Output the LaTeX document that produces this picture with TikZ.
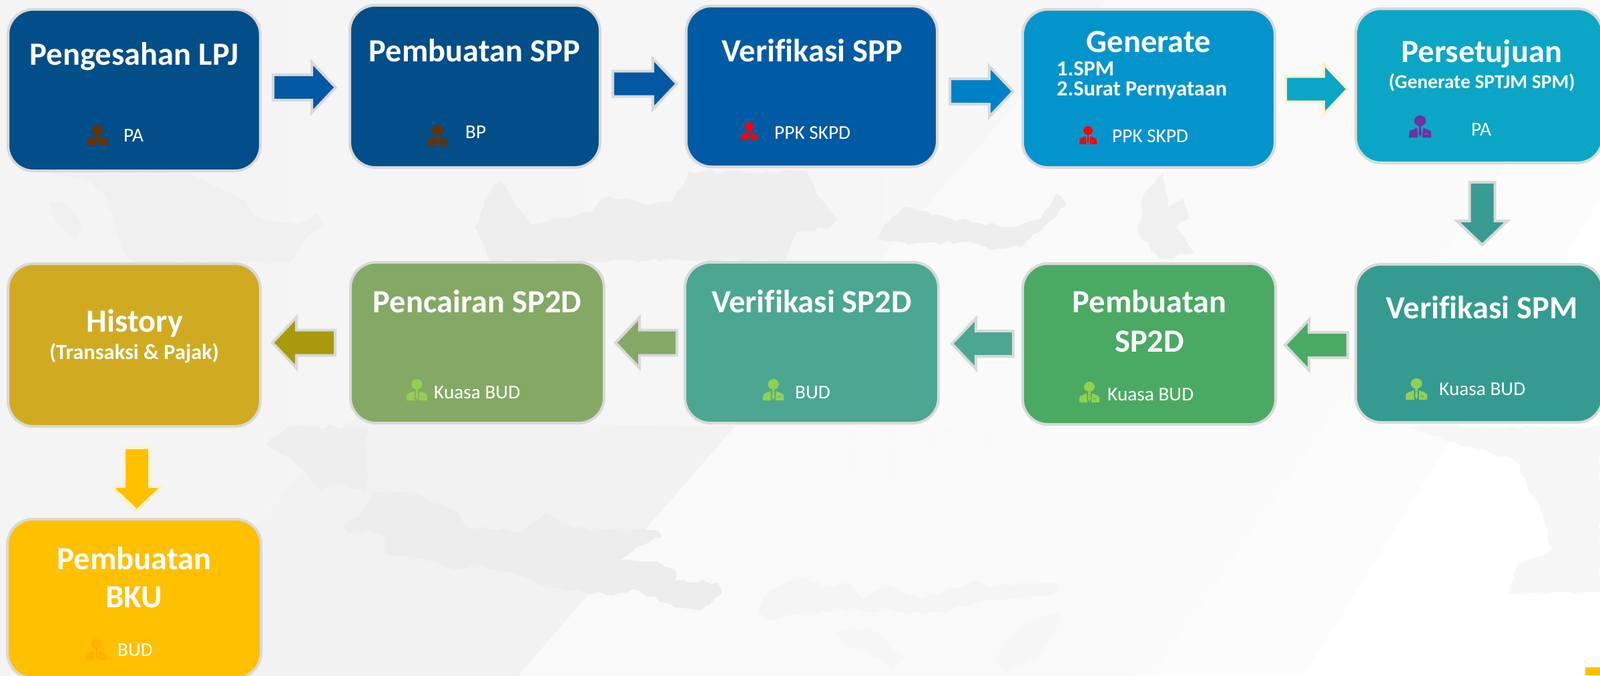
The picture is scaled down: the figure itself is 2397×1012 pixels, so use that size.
\documentclass[tikz,border=0pt]{standalone}
\usepackage{fontspec}
\setmainfont[Ligatures=NoCommon]{Carlito}
\usetikzlibrary{calc,decorations.pathmorphing}
\definecolor{cB}{HTML}{024E88}
\definecolor{cC}{HTML}{005AA4}
\definecolor{cD}{HTML}{0494CC}
\definecolor{cE}{HTML}{0BA6C6}
\definecolor{cF}{HTML}{359B91}
\definecolor{cG}{HTML}{4AAA63}
\definecolor{cH}{HTML}{4BA792}
\definecolor{cI}{HTML}{84A965}
\definecolor{cJ}{HTML}{D0AB22}
\definecolor{cK}{HTML}{FFC000}
\definecolor{aA}{HTML}{0358A3}
\definecolor{aB}{HTML}{0080C6}
\definecolor{aC}{HTML}{399B91}
\definecolor{aD}{HTML}{A89A0C}
\definecolor{edgeG}{HTML}{D9D9D9}
\definecolor{edgeY}{HTML}{FFF2CC}
\definecolor{iBrown}{HTML}{663300}
\definecolor{iRed}{HTML}{FF0000}
\definecolor{iPurple}{HTML}{7030A0}
\definecolor{iGreen}{HTML}{92D050}
\definecolor{iOrange}{HTML}{FFB000}
\tikzset{
  flowbox/.style={draw=edgeG,line width=4pt,rounded corners=38pt,inner sep=0pt,outer sep=0pt},
  title/.style={text=white,anchor=base,inner sep=0pt,font=\fontsize{48.5}{58}\selectfont\bfseries},
  subtitle/.style={text=white,inner sep=0pt,font=\fontsize{32.4}{38}\selectfont\bfseries},
  subsmall/.style={text=white,inner sep=0pt,font=\fontsize{29.5}{36}\selectfont\bfseries},
  who/.style={text=white,anchor=base west,inner sep=0pt,font=\fontsize{29.3}{34}\selectfont},
  blockarrow/.style={line width=4pt,miter limit=10,line join=miter},
  band/.style={fill=#1,draw=none},
  map/.style={fill=#1,draw=none,decorate,decoration={random steps,segment length=11pt,amplitude=3pt}}
}
% outer extents x1 y1 x2 y2, name, colour
\newcommand{\flowbox}[6]{%
  \pgfmathsetmacro{\bw}{#3-#1-4}\pgfmathsetmacro{\bh}{#4-#2-4}%
  \node[flowbox,fill=#6,minimum width=\bw pt,minimum height=\bh pt] (#5) at ({(#1+#3)/2},{(#2+#4)/2}) {};}
% tail, tip, fill, edge
\newcommand{\blockarrow}[4]{%
  \coordinate (bc) at ($(#2)!36pt!(#1)$);
  \draw[blockarrow,fill=#3,draw=#4]
    ($(#1)!19pt!90:(#2)$) -- ($(bc)!19pt!($(bc)!1!90:(#2)$)$) -- ($(bc)!38pt!($(bc)!1!90:(#2)$)$) -- (#2)
    -- ($(bc)!38pt!($(bc)!1!-90:(#2)$)$) -- ($(bc)!19pt!($(bc)!1!-90:(#2)$)$) -- ($(#1)!19pt!-90:(#2)$) -- cycle;}
% x y w h colour background
\newcommand{\personicon}[6]{%
  \begin{scope}[shift={(#1,#2)},xscale=#3/30,yscale=#4/33]
    \fill[#5] (15,8) circle [x radius=8,y radius=8];
    \fill[#5] (13.4,15) rectangle (16.6,20);
    \fill[#5] (13.6,20) -- (16.4,20) -- (17,28) -- (15,32) -- (13,28) -- cycle;
    \fill[#5] (0,33) -- (0,25) -- (2,22.5) -- (11,18.5) -- (12,33) -- cycle;
    \fill[#5] (30,33) -- (30,25) -- (28,22.5) -- (19,18.5) -- (18,33) -- cycle;
    \fill[#6] (21,26.6) rectangle (25,27.8);
  \end{scope}}
\begin{document}
\begin{tikzpicture}[x=1pt,y=-1pt]
\useasboundingbox (0,0) rectangle (2397,1012);
% background
\fill[white] (0,0) rectangle (2397,1012);
\fill[left color=black!4.5,right color=black!3] (0,0) rectangle (1700,1012);
\path[band=black!2] (1657,0) -- (2397,0) -- (2397,1012) -- (776,1012) -- cycle;
\path[band=black!5] (520,630) -- (1100,640) -- (776,1012) -- (190,1012) -- cycle;
\path[band=black!1] (2255,247) -- (2397,80) -- (2397,1012) -- (1725,1012) -- cycle;
\path[band=white] (2397,300) -- (2397,1012) -- (1954,1012) -- cycle;
\path[map=black!3] (2107,640) -- (2270,690) -- (2311,773) -- (2324,823) -- (2273,847) -- (2260,890) -- (2397,887) -- (2397,640) -- cycle;
% faint map
\path[map=black!7] (559,737) -- (629,740) -- (687,770) -- (699,790) -- (782,797) -- (814,770) -- (839,783) -- (884,795) -- (986,795) -- (992,805) -- (954,820) -- (929,840) -- (986,842) -- (1011,853) -- (1011,870) -- (1075,873) -- (1081,890) -- (1050,915) -- (1011,910) -- (999,903) -- (948,883) -- (910,892) -- (820,878) -- (769,857) -- (718,848) -- (680,853) -- (642,840) -- (578,830) -- (578,807) -- (553,795) -- (521,800) -- (515,787) -- (540,773) -- cycle;
\path[map=black!4] (1177,873) -- (1203,867) -- (1241,880) -- (1266,870) -- (1292,897) -- (1330,878) -- (1381,897) -- (1464,870) -- (1483,880) -- (1553,870) -- (1585,873) -- (1585,887) -- (1521,897) -- (1457,903) -- (1406,918) -- (1355,917) -- (1304,915) -- (1241,917) -- (1190,920) -- (1152,930) -- (1136,917) -- (1145,893) -- cycle;
\path[map=black!3] (1253,947) -- (1304,942) -- (1355,983) -- (1336,1002) -- (1292,973) -- (1266,970) -- cycle;
\path[map=black!3] (1585,918) -- (1590,930) -- (1559,983) -- (1508,1007) -- (1489,993) -- (1508,957) -- (1527,940) -- cycle;
\path[map=black!2.5] (1279,640) -- (1336,640) -- (1336,723) -- (1298,730) -- (1276,707) -- cycle;
\path[map=black!2.5] (1394,640) -- (1483,640) -- (1483,703) -- (1457,727) -- (1406,713) -- cycle;
\path[map=black!6.5] (400,665) -- (430,640) -- (550,640) -- (548,738) -- (510,725) -- (480,735) -- (450,700) -- cycle;
\path[map=black!6] (76,258) -- (275,258) -- (329,283) -- (367,300) -- (382,323) -- (443,337) -- (474,320) -- (486,337) -- (459,357) -- (436,393) -- (199,393) -- (183,373) -- (160,297) -- (138,273) -- cycle;
\path[map=black!6] (73,305) -- (92,300) -- (122,337) -- (115,358) -- (84,333) -- cycle;
\path[map=black!6.5] (749,270) -- (795,337) -- (833,327) -- (887,318) -- (902,297) -- (936,297) -- (971,308) -- (1009,300) -- (1032,257) -- (1208,257) -- (1223,290) -- (1254,327) -- (1239,343) -- (1193,347) -- (1177,390) -- (734,390) -- (711,340) -- (726,297) -- cycle;
\path[map=black!6.5] (1353,310) -- (1422,327) -- (1514,340) -- (1560,327) -- (1583,290) -- (1598,307) -- (1575,330) -- (1529,370) -- (1483,375) -- (1453,362) -- (1361,367) -- (1315,357) -- (1330,333) -- cycle;
\path[map=black!6] (1743,260) -- (1713,293) -- (1705,347) -- (1735,387) -- (1789,380) -- (1760,340) -- (1781,327) -- (1774,297) -- (1750,310) -- cycle;
% corner mark
\fill[cK] (2375,1000) rectangle (2397,1012);
% boxes
\flowbox{10}{12}{392}{258}{b1}{cB}
\flowbox{522}{6}{901}{253}{b2}{cB}
\flowbox{1026}{7}{1406}{252}{b3}{cC}
\flowbox{1530}{12}{1912}{253}{b4}{cD}
\flowbox{2029}{11}{2403}{246}{b5}{cE}
\flowbox{2029}{394}{2403}{635}{b6}{cF}
\flowbox{1530}{393}{1913}{638}{b7}{cG}
\flowbox{1024}{391}{1408}{636}{b8}{cH}
\flowbox{523}{391}{907}{636}{b9}{cI}
\flowbox{10}{393}{392}{641}{b10}{cJ}
\flowbox{9}{776}{393}{1018}{b11}{cK}
% arrows
\coordinate (t1) at (409,131); \coordinate (h1) at (503,131);
\coordinate (t2) at (918,125.5); \coordinate (h2) at (1014,125.5);
\coordinate (t3) at (1423,137); \coordinate (h3) at (1518,137);
\coordinate (t4) at (1926,133.5); \coordinate (h4) at (2019,133.5);
\coordinate (t5) at (2220.5,273); \coordinate (h5) at (2220.5,367);
\coordinate (t6) at (2019,517); \coordinate (h6) at (1925,517);
\coordinate (t7) at (1518,515); \coordinate (h7) at (1426,515);
\coordinate (t8) at (1014,513.5); \coordinate (h8) at (922,513.5);
\coordinate (t9) at (502,513.5); \coordinate (h9) at (408,513.5);
\coordinate (t10) at (205,671); \coordinate (h10) at (205,765);
\blockarrow{t1}{h1}{aA}{edgeG}
\blockarrow{t2}{h2}{aA}{edgeG}
\blockarrow{t3}{h3}{aB}{edgeG}
\blockarrow{t4}{h4}{cE}{edgeY}
\blockarrow{t5}{h5}{aC}{edgeG}
\blockarrow{t6}{h6}{cG}{edgeG}
\blockarrow{t7}{h7}{cH}{edgeG}
\blockarrow{t8}{h8}{cI}{edgeG}
\blockarrow{t9}{h9}{aD}{edgeG}
\blockarrow{t10}{h10}{cK}{edgeY}
% titles
\node[title] (n1) at (201,97) {Pengesahan LPJ};
\node[title] (n2) at (711,92) {Pembuatan SPP};
\node[title] (n3) at (1217,92) {Verifikasi SPP};
\node[title] (n4) at (1721,78) {Generate};
\node[subtitle,anchor=base west] (n4a) at (1583,113) {1.SPM};
\node[subtitle,anchor=base west] (n4b) at (1583,143) {2.Surat Pernyataan};
\node[title] (n5) at (2220,93) {Persetujuan};
\node[subsmall,anchor=base] (n5a) at (2220,132) {(Generate SPTJM SPM)};
\node[title] (n6) at (2220,477) {Verifikasi SPM};
\node[title] (n7) at (1722,468) {Pembuatan};
\node[title] (n7a) at (1722,527) {SP2D};
\node[title] (n8) at (1216,468) {Verifikasi SP2D};
\node[title] (n9) at (715,468) {Pencairan SP2D};
\node[title] (n10) at (202,497) {History};
\node[subtitle,anchor=base] (n10a) at (201,538) {(Transaksi \& Pajak)};
\node[title] (n11) at (201,853) {Pembuatan};
\node[title] (n11a) at (201,910) {BKU};
% roles
\node[who] (r1) at (185,212) {PA};
\node[who] (r2) at (697,207) {BP};
\node[who] (r3) at (1160,208) {PPK SKPD};
\node[who] (r4) at (1666,213) {PPK SKPD};
\node[who] (r5) at (2204,203) {PA};
\node[who] (r6) at (2156,592) {Kuasa BUD};
\node[who] (r7) at (1659,600) {Kuasa BUD};
\node[who] (r8) at (1191,597) {BUD};
\node[who] (r9) at (650,597) {Kuasa BUD};
\node[who] (r11) at (176,983) {BUD};
% person icons
\personicon{131}{187}{30}{31}{iBrown}{cB}
\personicon{640}{187}{31}{32}{iBrown}{cB}
\personicon{1110}{183}{25}{27}{iRed}{cC}
\personicon{1617}{189}{26}{27}{iRed}{cD}
\personicon{2111}{173}{33}{33}{iPurple}{cE}
\personicon{2106}{567}{32}{32}{iGreen}{cF}
\personicon{1617}{572}{30}{31}{iGreen}{cG}
\personicon{1143}{568}{31}{32}{iGreen}{cH}
\personicon{609}{568}{31}{32}{iGreen}{cI}
\personicon{129}{957}{31}{32}{iOrange}{cK}
\end{tikzpicture}
\end{document}
